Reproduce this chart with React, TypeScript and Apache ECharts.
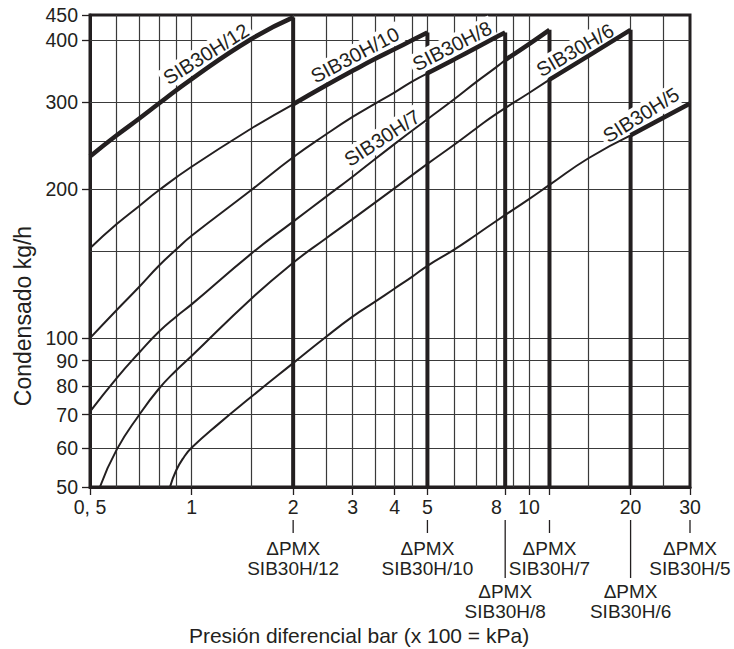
import React, { useEffect, useRef } from 'react';
import * as echarts from 'echarts';

const INK = '#231f20';
const GRIDC = '#3a3a3a';
const FONT = '"Liberation Sans", Arial, Helvetica, sans-serif';

// grid / tick values
const xGridValues = [0.6, 0.7, 0.8, 0.9, 1, 1.5, 2, 2.5, 3, 3.5, 4, 4.5, 5, 6, 7, 8, 9, 10, 15, 20, 25];
const yGridValues = [60, 70, 80, 90, 100, 150, 200, 250, 300, 400];
const xTickValues = [0.5, 1, 2, 3, 4, 5, 8.5, 10, 11.5, 20, 30];
const xLabelValues = [0.5, 1, 2, 3, 4, 5, 8, 10, 20, 30];
const yTickValues = [50, 60, 70, 80, 90, 100, 200, 300, 400, 450];

// SIB30H/12
const m12ThickX = [0.5, 0.6, 0.7, 0.8, 1, 1.5, 2];
const m12ThickY = [233, 257, 278, 298, 334, 402, 445];
// SIB30H/10
const m10ThinX = [0.5, 0.6, 0.7, 0.8, 1, 1.5, 2];
const m10ThinY = [152, 170, 185, 199, 222, 265, 297];
const m10ThickX = [2, 2.5, 3, 3.5, 4, 4.5, 5];
const m10ThickY = [297, 324, 347, 367, 384, 400, 415];
// SIB30H/8
const m8ThinX = [0.5, 0.6, 0.7, 0.8, 0.9, 1, 1.5, 2, 2.5, 3, 3.5, 4, 4.5, 5];
const m8ThinY = [100, 114, 127, 140, 151, 161, 199, 232, 258, 280, 298, 314, 330, 343];
const m8ThickX = [5, 6, 7, 8, 8.5];
const m8ThickY = [343, 366, 387, 406, 415];
// SIB30H/7
const m7ThinX = [0.5, 0.6, 0.7, 0.8, 0.9, 1, 1.5, 2, 2.5, 3, 4, 5, 6, 7, 8, 8.5];
const m7ThinY = [71, 83, 93.5, 103, 110.5, 117, 148, 172, 193, 212, 247, 277, 304, 330, 353, 365];
const m7ThickX = [8.5, 10, 11.5];
const m7ThickY = [365, 393, 420];
// SIB30H/6
const m6ThinX = [0.535, 0.6, 0.7, 0.8, 0.9, 1, 1.5, 2, 2.5, 3, 4, 5, 6, 7, 8, 10, 11.5];
const m6ThinY = [50, 59.5, 70, 79, 86, 92, 120, 142, 159, 174, 201, 225, 246, 266, 284, 313, 333];
const m6ThickX = [11.5, 15, 20];
const m6ThickY = [333, 372, 420];
// SIB30H/5
const m5ThinX = [0.863, 0.9, 0.95, 1, 1.2, 1.5, 2, 2.5, 3, 3.5, 4, 4.5, 5, 6, 7, 8, 10, 11.5, 15, 20];
const m5ThinY = [50, 54, 57.5, 60, 67, 76, 89, 100.5, 110.5, 118.5, 126, 133, 140, 151, 162, 172.5, 191, 204, 231, 257];
const m5ThickX = [20, 25, 30];
const m5ThickY = [257, 279, 298];

// ΔPMX
const pmxValues = [2, 5, 8.5, 11.5, 20, 30];
const pmxTops = [445, 415, 415, 420, 420, 298];
const pmxModels = ['SIB30H/12', 'SIB30H/10', 'SIB30H/8', 'SIB30H/7', 'SIB30H/6', 'SIB30H/5'];
const pmxLowRow = [false, false, true, false, true, false];

const curveLabels = ['SIB30H/12', 'SIB30H/10', 'SIB30H/8', 'SIB30H/7', 'SIB30H/6', 'SIB30H/5'];

const pair = (xs: number[], ys: number[]) => xs.map((x, i) => [x, ys[i]]);

export default function App() {
  const ref = useRef<HTMLDivElement>(null);

  useEffect(() => {
    if (!ref.current) return;
    const chart = echarts.init(ref.current, null, { renderer: 'svg' });

    const curve = (name: string, xs: number[], ys: number[], thick: boolean) => ({
      type: 'line',
      name,
      data: pair(xs, ys),
      showSymbol: false,
      symbol: 'none',
      smooth: 0.5,
      silent: true,
      z: thick ? 5 : 4,
      lineStyle: { color: INK, width: thick ? 4.5 : 2 },
    });

    const verticals = pmxValues.slice(0, 5).map((v, i) => ({
      type: 'line',
      name: 'pmx' + i,
      data: [[v, 50], [v, pmxTops[i]]],
      showSymbol: false,
      symbol: 'none',
      silent: true,
      z: 2,
      lineStyle: { color: INK, width: 4 },
    }));

    const gridSeries = {
      type: 'line',
      name: 'grid',
      data: [[0.5, 50]],
      showSymbol: false,
      symbol: 'none',
      silent: true,
      z: 1,
      lineStyle: { width: 0 },
      markLine: {
        silent: true,
        z: 1,
        symbol: ['none', 'none'],
        label: { show: false },
        emphasis: { disabled: true },
        lineStyle: { color: GRIDC, width: 1.2, type: 'solid' },
        data: [
          ...xGridValues.map((v) => ({ xAxis: v })),
          ...yGridValues.map((v) => ({ yAxis: v })),
        ],
      },
    };

    const option: any = {
      animation: false,
      backgroundColor: '#fff',
      grid: {
        left: 90,
        top: 15,
        width: 600,
        height: 472,
        show: true,
        borderColor: INK,
        borderWidth: 3,
        backgroundColor: 'transparent',
        containLabel: false,
      },
      xAxis: {
        type: 'log',
        logBase: 10,
        min: 0.5,
        max: 30,
        axisLine: { show: true, lineStyle: { color: INK, width: 3 } },
        axisTick: { show: true, length: 8, lineStyle: { color: INK, width: 1.3 }, customValues: xTickValues },
        axisLabel: {
          customValues: xLabelValues,
          formatter: (v: number) => (Math.abs(v - 0.5) < 1e-6 ? '0, 5' : String(Math.round(v))),
          margin: 10,
          fontSize: 19.5,
          fontFamily: FONT,
          color: INK,
        },
        splitLine: { show: false },
        minorTick: { show: false },
        minorSplitLine: { show: false },
      },
      yAxis: {
        type: 'log',
        logBase: 10,
        min: 50,
        max: 450,
        axisLine: { show: true, lineStyle: { color: INK, width: 3 } },
        axisTick: { show: true, length: 8, lineStyle: { color: INK, width: 1.3 }, customValues: yTickValues },
        axisLabel: {
          customValues: yTickValues,
          formatter: (v: number) => String(Math.round(v)),
          margin: 12,
          fontSize: 19.5,
          fontFamily: FONT,
          color: INK,
        },
        splitLine: { show: false },
        minorTick: { show: false },
        minorSplitLine: { show: false },
      },
      series: [
        gridSeries,
        ...verticals,
        curve('SIB30H/10 a', m10ThinX, m10ThinY, false),
        curve('SIB30H/8 a', m8ThinX, m8ThinY, false),
        curve('SIB30H/7 a', m7ThinX, m7ThinY, false),
        curve('SIB30H/6 a', m6ThinX, m6ThinY, false),
        curve('SIB30H/5 a', m5ThinX, m5ThinY, false),
        curve('SIB30H/12', m12ThickX, m12ThickY, true),
        curve('SIB30H/10', m10ThickX, m10ThickY, true),
        curve('SIB30H/8', m8ThickX, m8ThickY, true),
        curve('SIB30H/7', m7ThickX, m7ThickY, true),
        curve('SIB30H/6', m6ThickX, m6ThickY, true),
        curve('SIB30H/5', m5ThickX, m5ThickY, true),
      ],
    };

    chart.setOption(option);

    const labelPlaces = [
      [206, 54, 32],
      [355, 55, 28],
      [452, 46, 27],
      [382, 138, 33],
      [575, 50, 30],
      [641, 115, 32],
    ];

    const txt = (text: string, x: number, y: number, size: number, rot = 0, bg = false, z = 6, lh?: number) => ({
      type: 'text',
      x,
      y,
      rotation: rot,
      z,
      silent: true,
      style: {
        text,
        fill: INK,
        fontSize: size,
        fontFamily: FONT,
        align: 'center',
        verticalAlign: 'middle',
        textAlign: 'center',
        textVerticalAlign: 'middle',
        lineHeight: lh,
        backgroundColor: bg ? '#fff' : undefined,
        padding: bg ? [1, 3] : 0,
      },
    });

    const elements: any[] = [];
    curveLabels.forEach((t, i) => {
      const [x, y, a] = labelPlaces[i];
      elements.push(txt(t, x, y, 20, (a * Math.PI) / 180, true, 3));
    });

    pmxValues.forEach((v, i) => {
      const px = chart.convertToPixel({ xAxisIndex: 0 }, v) as number;
      const low = pmxLowRow[i];
      elements.push({
        type: 'line',
        z: 6,
        silent: true,
        shape: { x1: px, y1: 520, x2: px, y2: low ? 578 : 533 },
        style: { stroke: INK, lineWidth: 1.3 },
      });
      elements.push(txt('ΔPMX\n' + pmxModels[i], px, low ? 601.5 : 558.5, 19, 0, false, 6, 20));
    });

    elements.push(txt('Presión diferencial bar (x 100 = kPa)', 359, 635, 21));
    elements.push(txt('Condensado kg/h', 23, 316, 23, Math.PI / 2));

    chart.setOption({ graphic: { elements } });

    return () => chart.dispose();
  }, []);

  return (
    <div
      ref={ref}
      style={{ position: 'fixed', left: 0, top: 0, width: 734, height: 649, background: '#fff' }}
    />
  );
}
